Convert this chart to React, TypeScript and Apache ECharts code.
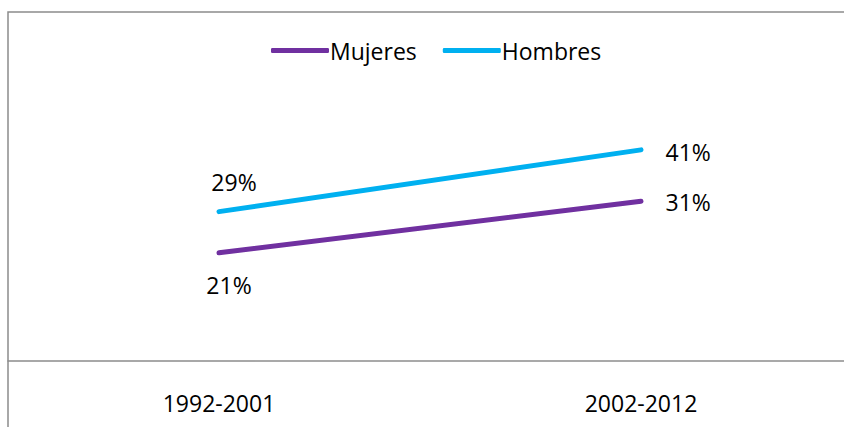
import React, { useEffect, useRef } from "react";
import * as echarts from "echarts";

const categories = ["1992-2001", "2002-2012"];
const mujeres = [21, 31];
const hombres = [29, 41];
const seriesNames = ["Mujeres", "Hombres"];

export default function App() {
  const ref = useRef<HTMLDivElement>(null);
  useEffect(() => {
    if (!ref.current) return;
    const chart = echarts.init(ref.current, undefined, { renderer: "svg" });
    const font = "'Open Sans', 'Noto Sans', sans-serif";
    const lbl = (v: number) => v + "%";
    const labelBase = {
      show: true,
      formatter: (p: any) => lbl(p.value),
      fontSize: 23,
      color: "#000",
      fontFamily: font,
    };
    chart.setOption({
      animation: false,
      backgroundColor: "#ffffff",
      textStyle: { fontFamily: font },
      graphic: [
        {
          type: "rect",
          shape: { x: 8, y: 12, width: 900, height: 500 },
          style: { fill: "none", stroke: "#8c8c8c", lineWidth: 1.5 },
          z: 100,
        },
      ],
      legend: {
        left: 266,
        top: 34,
        itemWidth: 58,
        itemHeight: 5,
        itemGap: 26,
        icon: "roundRect",
        textStyle: { fontSize: 23, color: "#000", fontFamily: font, padding: [0, 0, 0, -4] },
        data: seriesNames,
      },
      grid: { left: 8, right: 0, top: 52, bottom: 66, containLabel: false },
      xAxis: {
        type: "category",
        data: categories,
        boundaryGap: true,
        axisLine: { lineStyle: { color: "#8c8c8c", width: 1.5 } },
        axisTick: { show: false },
        axisLabel: { fontSize: 23, color: "#000", margin: 30, fontFamily: font },
        splitLine: { show: false },
      },
      yAxis: { type: "value", min: 0, max: 60, show: false },
      series: [
        {
          name: seriesNames[0],
          type: "line",
          data: [
            {
              value: mujeres[0],
              label: { position: "bottom", distance: 20, offset: [10, 0] },
            },
            { value: mujeres[1], label: { position: "right", distance: 24, offset: [0, 1] } },
          ],
          symbol: "circle",
          symbolSize: 1,
          itemStyle: { color: "#7030A0" },
          lineStyle: { color: "#7030A0", width: 5, cap: "round" },
          label: labelBase,
        },
        {
          name: seriesNames[1],
          type: "line",
          data: [
            {
              value: hombres[0],
              label: { position: "top", distance: 18, offset: [15, 0] },
            },
            { value: hombres[1], label: { position: "right", distance: 24, offset: [0, 2] } },
          ],
          symbol: "circle",
          symbolSize: 1,
          itemStyle: { color: "#00B0F0" },
          lineStyle: { color: "#00B0F0", width: 5, cap: "round" },
          label: labelBase,
        },
      ],
    });
    return () => chart.dispose();
  }, []);
  return (
    <div
      style={{
        position: "absolute",
        left: 0,
        top: 0,
        width: 844,
        height: 427,
        overflow: "hidden",
      }}
    >
      <div ref={ref} style={{ width: 852, height: 427 }} />
    </div>
  );
}
